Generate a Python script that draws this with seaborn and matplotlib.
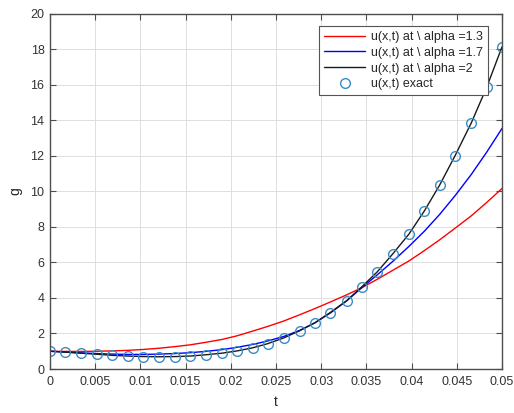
import numpy as np
import pandas as pd
import matplotlib
matplotlib.use("Agg")
import matplotlib.pyplot as plt
import seaborn as sns

# ---- data ----
t = [0.0000, 0.0017, 0.0034, 0.0052, 0.0069, 0.0086, 0.0103, 0.0121, 0.0138, 0.0155,
     0.0172, 0.0190, 0.0207, 0.0224, 0.0241, 0.0259, 0.0276, 0.0293, 0.0310, 0.0328,
     0.0345, 0.0362, 0.0379, 0.0397, 0.0414, 0.0431, 0.0448, 0.0466, 0.0483, 0.0500]

u_alpha_13 = [1.00, 0.99, 0.99, 1.00, 1.02, 1.05, 1.10, 1.17, 1.26, 1.36,
              1.50, 1.66, 1.87, 2.13, 2.40, 2.71, 3.05, 3.40, 3.77, 4.17,
              4.58, 5.05, 5.55, 6.08, 6.66, 7.27, 7.92, 8.62, 9.37, 10.16]

u_alpha_17 = [1.00, 0.95, 0.91, 0.87, 0.84, 0.82, 0.82, 0.84, 0.87, 0.92,
              0.99, 1.09, 1.22, 1.38, 1.58, 1.84, 2.17, 2.60, 3.15, 3.83,
              4.58, 5.30, 6.05, 6.90, 7.75, 8.70, 9.75, 10.95, 12.20, 13.54]

u_alpha_2 = [1.00, 0.95, 0.89, 0.83, 0.77, 0.73, 0.70, 0.69, 0.70, 0.73,
             0.80, 0.89, 1.02, 1.19, 1.43, 1.76, 2.15, 2.60, 3.18, 3.84,
             4.63, 5.47, 6.47, 7.59, 8.89, 10.35, 12.00, 13.85, 15.85, 18.13]

u_exact = [1.00, 0.95, 0.89, 0.83, 0.77, 0.73, 0.70, 0.69, 0.70, 0.73,
           0.80, 0.89, 1.02, 1.19, 1.43, 1.76, 2.15, 2.60, 3.18, 3.84,
           4.63, 5.47, 6.47, 7.59, 8.89, 10.35, 12.00, 13.85, 15.85, 18.13]

labels = ["u(x,t) at \\ alpha =1.3", "u(x,t) at \\ alpha =1.7",
          "u(x,t) at \\ alpha =2", "u(x,t) exact"]
x_ticks = [0, 0.005, 0.01, 0.015, 0.02, 0.025, 0.03, 0.035, 0.04, 0.045, 0.05]
x_tick_labels = ["0", "0.005", "0.01", "0.015", "0.02", "0.025", "0.03",
                 "0.035", "0.04", "0.045", "0.05"]
y_ticks = list(range(0, 21, 2))

# ---- style ----
sns.set_theme(style="whitegrid")
plt.rcParams["font.family"] = ["Liberation Sans", "DejaVu Sans"]

axis_color = "#4d4d4d"
fig = plt.figure(figsize=(5.14, 4.13), dpi=100)
ax = fig.add_axes([0.0973, 0.1065, 0.8794, 0.8605])
ax.set_facecolor("white")

df = pd.DataFrame({"t": t, "a13": u_alpha_13, "a17": u_alpha_17,
                   "a2": u_alpha_2, "ex": u_exact})

sns.lineplot(data=df, x="t", y="a13", ax=ax, color="#ff0000", lw=1.0,
             label=labels[0])
sns.lineplot(data=df, x="t", y="a17", ax=ax, color="#0000ff", lw=1.0,
             label=labels[1])
sns.lineplot(data=df, x="t", y="a2", ax=ax, color="#1a1a1a", lw=1.0,
             label=labels[2])
sns.lineplot(data=df, x="t", y="ex", ax=ax, color="#3a8cc4", lw=0,
             marker="o", markersize=7, markerfacecolor="none",
             markeredgecolor="#3a8cc4", markeredgewidth=1.0, linestyle="none",
             label=labels[3])

ax.set_xlim(0, 0.05)
ax.set_ylim(0, 20)
ax.set_xticks(x_ticks)
ax.set_xticklabels(x_tick_labels)
ax.set_yticks(y_ticks)
ax.set_xlabel("t", fontsize=10, color="#262626", labelpad=5)
ax.set_ylabel("g", fontsize=10, color="#262626", labelpad=6)

ax.grid(True, color="#dedede", lw=0.7)
for s in ax.spines.values():
    s.set_visible(True)
    s.set_color(axis_color)
    s.set_linewidth(1.0)
ax.tick_params(direction="in", length=4, width=0.8, colors=axis_color,
               labelsize=9, labelcolor="#333333", top=True, right=True,
               bottom=True, left=True)
ax.tick_params(axis="x", pad=5)
ax.tick_params(axis="y", pad=4)

leg = ax.legend(loc="upper right", bbox_to_anchor=(0.97, 0.965), fontsize=9,
                frameon=True, fancybox=False, framealpha=1, edgecolor="#555555",
                handlelength=3.3, handletextpad=0.5, borderpad=0.4,
                labelspacing=0.3, borderaxespad=0)
leg.get_frame().set_linewidth(0.8)

fig.savefig("out.png", dpi=100)
